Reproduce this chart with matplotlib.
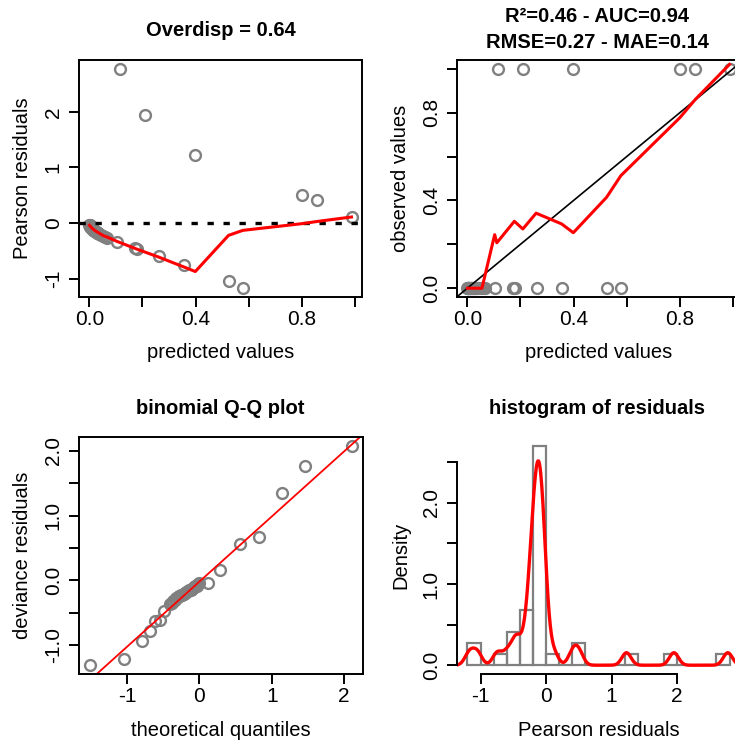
import numpy as np
import matplotlib
matplotlib.use('Agg')
import matplotlib.pyplot as plt

plt.rcParams['font.family'] = ['Liberation Sans', 'DejaVu Sans']
plt.rcParams['font.size'] = 14.5

# fitted probabilities and observed 0/1 outcome (one entry per observation)
pred = [0.0006, 0.00084, 0.00144, 0.0023, 0.00324, 0.00434, 0.00559, 0.00701, 0.00876, 0.0105,
        0.0124, 0.0144, 0.0166, 0.0192, 0.0217, 0.0244, 0.0271, 0.0301, 0.0334, 0.0366,
        0.044, 0.051, 0.059, 0.067,
        0.105, 0.172, 0.178, 0.261, 0.357, 0.524, 0.578,
        0.115, 0.208, 0.399, 0.800, 0.858, 0.987]
obs = [0, 0, 0, 0, 0, 0, 0, 0, 0, 0,
       0, 0, 0, 0, 0, 0, 0, 0, 0, 0,
       0, 0, 0, 0,
       0, 0, 0, 0, 0, 0, 0,
       1, 1, 1, 1, 1, 1]
pearson = [-0.025, -0.029, -0.038, -0.048, -0.057, -0.066, -0.075, -0.084, -0.094, -0.103,
           -0.112, -0.121, -0.130, -0.140, -0.149, -0.158, -0.167, -0.176, -0.186, -0.195,
           -0.215, -0.232, -0.250, -0.268,
           -0.343, -0.456, -0.465, -0.594, -0.745, -1.049, -1.170,
           2.774, 1.951, 1.227, 0.500, 0.407, 0.115]

# smoothers drawn in red
res_smooth_x = [0.0006, 0.01, 0.02, 0.03, 0.04, 0.055, 0.067, 0.105, 0.175, 0.261,
                0.357, 0.399, 0.524, 0.578, 0.800, 0.858, 0.987]
res_smooth_y = [-0.04, -0.09, -0.13, -0.16, -0.19, -0.23, -0.25, -0.33, -0.46, -0.61,
                -0.79, -0.87, -0.22, -0.13, -0.01, 0.03, 0.11]
obs_smooth_x = [0.0006, 0.055, 0.103, 0.111, 0.177, 0.209, 0.259, 0.355, 0.399, 0.524,
                0.578, 0.800, 0.858, 0.987]
obs_smooth_y = [0.0, 0.0, 0.244, 0.207, 0.305, 0.270, 0.342, 0.293, 0.253, 0.414,
                0.513, 0.777, 0.860, 1.020]

# binomial Q-Q plot
qq_theo = [-1.52, -1.04, -0.80, -0.69, -0.62, -0.54, -0.485,
           -0.41, -0.38, -0.36, -0.34, -0.32, -0.30, -0.28, -0.26, -0.24, -0.22,
           -0.20, -0.18, -0.16, -0.14, -0.12, -0.10, -0.09, -0.07, -0.06, -0.04,
           -0.03, -0.015, 0.0,
           0.115, 0.29, 0.56, 0.82, 1.145, 1.46, 2.115]
qq_dev = [-1.314, -1.218, -0.940, -0.778, -0.626, -0.614, -0.471,
          -0.372, -0.349, -0.324, -0.300, -0.272, -0.260, -0.246, -0.234, -0.222, -0.209,
          -0.196, -0.183, -0.170, -0.158, -0.145, -0.133, -0.119, -0.106, -0.093, -0.081,
          -0.068, -0.054, -0.041,
          -0.035, 0.162, 0.554, 0.668, 1.356, 1.772, 2.080]
qq_intercept = -0.02
qq_slope = 1.007

titles = ['Overdisp = 0.64', 'R\u00b2=0.46 - AUC=0.94', 'RMSE=0.27 - MAE=0.14',
          'binomial Q-Q plot', 'histogram of residuals']

W, H = 735, 742
GREY = '#808080'
fig = plt.figure(figsize=(W / 100, H / 100), dpi=100)


def axes_px(l, t, r, b):
    return fig.add_axes([l / W, 1 - b / H, (r - l) / W, (b - t) / H])


def r_lim(v):
    lo, hi = min(v), max(v)
    d = 0.04 * (hi - lo)
    return lo - d, hi + d


def style(ax, xticks, xlabs, yticks, ylabs, xlab, ylab):
    ax.set_xticks(xticks, xlabs)
    ax.set_yticks(yticks, ylabs)
    ax.tick_params(direction='out', length=7.2, width=1.4, labelsize=15)
    ax.tick_params(axis='x', pad=2.5)
    ax.tick_params(axis='y', pad=4.5, labelrotation=90)
    for lab in ax.get_yticklabels():
        lab.set_va('center')
    for s in ax.spines.values():
        s.set_linewidth(1.4)
    bb = ax.get_position()
    ax.set_xlabel(xlab)
    ax.set_ylabel(ylab)
    ax.xaxis.set_label_coords(0.5, -56 / (bb.height * H))
    ax.xaxis.label.set_va('center')
    ax.yaxis.set_label_coords(-56 / (bb.width * W), 0.5)
    ax.yaxis.label.set_va('center')


def title_px(x, y, s):
    fig.text(x / W, 1 - y / H, s, ha='center', va='center', fontweight='bold', fontsize=14.5)


pt = dict(marker='o', ls='none', ms=7.8, mfc='none', mec=GREY, mew=1.7)
x01 = [0, 0.2, 0.4, 0.6, 0.8, 1.0]
x01_lab = ['0.0', '', '0.4', '', '0.8', '']

# panel 1: residuals vs fitted
ax1 = axes_px(79, 60, 362, 297)
ax1.plot(pred, pearson, **pt)
ax1.axhline(0, color='black', lw=2.4, dashes=(1.9, 2.9))
ax1.plot(res_smooth_x, res_smooth_y, color='red', lw=2.2)
ax1.set_xlim(r_lim(pred))
ax1.set_ylim(r_lim(pearson))
style(ax1, x01, x01_lab, [-1, 0, 1, 2], ['-1', '0', '1', '2'],
      'predicted values', 'Pearson residuals')
title_px(220.5, 30, titles[0])

# panel 2: observed vs predicted
ax2 = axes_px(457, 60, 740, 297)
ax2.plot(pred, obs, **pt)
ax2.axline((0, 0), slope=1, color='black', lw=1.2)
ax2.plot(obs_smooth_x, obs_smooth_y, color='red', lw=2.2)
ax2.set_xlim(r_lim(pred))
ax2.set_ylim(r_lim(obs))
style(ax2, x01, x01_lab, x01, x01_lab, 'predicted values', 'observed values')
title_px(597, 17, titles[1])
title_px(597, 42, titles[2])

# panel 3: Q-Q plot
ax3 = axes_px(79, 437, 363, 674)
ax3.plot(qq_theo, qq_dev, **pt)
ax3.axline((0, qq_intercept), slope=qq_slope, color='red', lw=1.3)
ax3.set_xlim(r_lim(qq_theo))
ax3.set_ylim(r_lim(qq_dev))
style(ax3, [-1, 0, 1, 2], ['-1', '0', '1', '2'],
      [-1.0, -0.5, 0.0, 0.5, 1.0, 1.5, 2.0], ['-1.0', '', '0.0', '', '1.0', '', '2.0'],
      'theoretical quantiles', 'deviance residuals')
title_px(220.5, 408, titles[3])

# panel 4: histogram + density
ax4 = axes_px(457, 437, 740, 674)
bins = np.arange(-1.2, 2.81, 0.2)
heights, _, _ = ax4.hist(pearson, bins=bins, density=True, facecolor='none',
                         edgecolor=GREY, linewidth=1.6)
res = np.array(pearson)
bw = 0.07
grid = np.linspace(res.min() - 3 * bw, res.max() + 3 * bw, 512)
dens = np.exp(-0.5 * ((grid[:, None] - res[None, :]) / bw) ** 2).sum(axis=1) / (len(res) * bw * np.sqrt(2 * np.pi))
ax4.plot(grid, dens, color='red', lw=2.4)
ax4.set_xlim(r_lim(bins))
ax4.set_ylim(r_lim([0, heights.max()]))
style(ax4, [-1, 0, 1, 2], ['-1', '0', '1', '2'],
      [0, 0.5, 1.0, 1.5, 2.0, 2.5], ['0.0', '', '1.0', '', '2.0', ''],
      'Pearson residuals', 'Density')
ax4.spines['top'].set_visible(False)
ax4.spines['right'].set_visible(False)
ax4.spines['left'].set_bounds(0, 2.5)
ax4.spines['bottom'].set_bounds(-1, 2)
title_px(597, 408, titles[4])

fig.savefig('out.png', dpi=100)
